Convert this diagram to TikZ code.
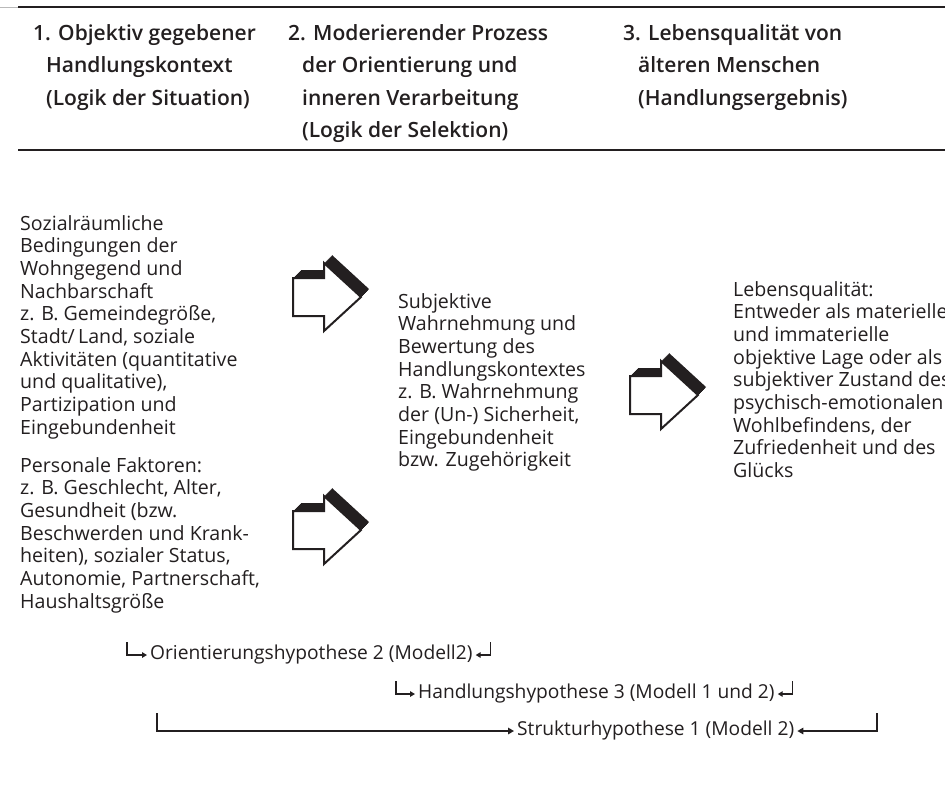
\documentclass[tikz,border=0pt]{standalone}
\usepackage{fontspec}
\setmainfont{Open Sans}
\newfontfamily\bodyfont{Open Sans}
\IfFontExistsTF{Open Sans SemiBold}{\newfontfamily\headfont{Open Sans SemiBold}}{%
  \IfFontExistsTF{Open Sans Semibold}{\newfontfamily\headfont{Open Sans Semibold}}{\newfontfamily\headfont{Open Sans Bold}}}
\usetikzlibrary{arrows.meta,calc}
\definecolor{ink}{RGB}{35,31,32}
\begin{document}
\begin{tikzpicture}[x=1pt,y=-1pt,
  bodytext/.style={anchor=north west, inner sep=0pt, align=left, text=ink,
    font=\bodyfont\fontsize{19.6}{22.7}\selectfont},
  headtext/.style={anchor=north west, inner sep=0pt, align=left, text=ink,
    font=\headfont\fontsize{21}{32.5}\selectfont},
  hyp/.style={anchor=west, inner sep=3pt, text=ink, font=\bodyfont\fontsize{19.2}{22}\selectfont},
  link/.style={draw=ink, line width=1.4pt, -{Triangle[length=5pt,width=5.5pt]}},
  biglink/.style={draw=ink, line width=2pt, -{Triangle[length=6pt,width=6.5pt]}},
  blockarr/.pic={
    \foreach \d in {0,0.5,...,8}
      \fill[ink, shift={(\d,-\d)}] (0,-19) -- (31,-19) -- (31,-34) -- (68,0) -- (31,34) -- (31,19) -- (0,19) -- cycle;
    \filldraw[fill=white, draw=ink, line width=2pt, line join=miter]
      (0,-19) -- (31,-19) -- (31,-34) -- (68,0) -- (31,34) -- (31,19) -- (0,19) -- cycle;
  }
]
\useasboundingbox[fill=white] (0,0) rectangle (945,798);

% rules
\draw[gray!55, line width=1pt] (0,7) -- (18,7);
\draw[ink, line width=1.5pt] (18,7) -- (945,7);
\draw[ink, line width=2.2pt] (18,150) -- (945,150);

% headers
\node[headtext] (c1) at (33,24) {1. Objektiv gegebener\\\hspace*{13pt}Handlungskontext\\\hspace*{13pt}(Logik der Situation)};
\node[headtext] (c2) at (288,24) {2. Moderierender Prozess\\\hspace*{14pt}der Orientierung und\\\hspace*{14pt}inneren Verarbeitung\\\hspace*{14pt}(Logik der Selektion)};
\node[headtext] (c3) at (623,24) {3. Lebensqualität von\\\hspace*{15pt}älteren Menschen\\\hspace*{15pt}(Handlungsergebnis)};

% body texts
\node[bodytext] (b1) at (20,215) {Sozialräumliche\\Bedingungen der\\Wohngegend und\\Nachbarschaft\\z. B. Gemeindegröße,\\Stadt/\,Land, soziale\\Aktivitäten (quantitative\\und qualitative),\\Partizipation und\\Eingebundenheit};
\node[bodytext] (b2) at (20,457) {Personale Faktoren:\\z. B. Geschlecht, Alter,\\Gesundheit (bzw.\\Beschwerden und Krank-\\heiten), sozialer Status,\\Autonomie, Partnerschaft,\\Haushaltsgröße};
\node[bodytext] (b3) at (398,293) {Subjektive\\Wahrnehmung und\\Bewertung des\\Handlungskontextes\\z. B. Wahrnehmung\\der (Un-) Sicherheit,\\Eingebundenheit\\bzw. Zugehörigkeit};
\node[bodytext] (b4) at (733,281) {Lebensqualität:\\Entweder als materielle\\und immaterielle\\objektive Lage oder als\\subjektiver Zustand des\\psychisch-emotionalen\\Wohlbefindens, der\\Zufriedenheit und des\\Glücks};

% block arrows
\pic at (293,297) {blockarr};
\pic at (293,530) {blockarr};
\pic at (630,395) {blockarr};

% hypotheses
\node[hyp] (o2) at (147,655) {Orientierungshypothese 2 (Modell2)};
\coordinate (o2l) at (127,642);
\coordinate (o2r) at ($(o2.east)+(15,-13)$);
\draw[link] (o2l) |- (o2.west);
\draw[link] (o2r) |- (o2.east);

\node[hyp] (h3) at (415,694) {Handlungshypothese 3 (Modell 1 und 2)};
\coordinate (h3l) at (396,681);
\coordinate (h3r) at ($(h3.east)+(15,-13)$);
\draw[link] (h3l) |- (h3.west);
\draw[link] (h3r) |- (h3.east);

\node[hyp] (s1) at (514,731) {Strukturhypothese 1 (Modell 2)};
\coordinate (s1l) at (157,713);
\coordinate (s1r) at (877,713);
\draw[biglink] (s1l) |- (s1.west);
\draw[biglink] (s1r) |- (s1.east);
\end{tikzpicture}
\end{document}
